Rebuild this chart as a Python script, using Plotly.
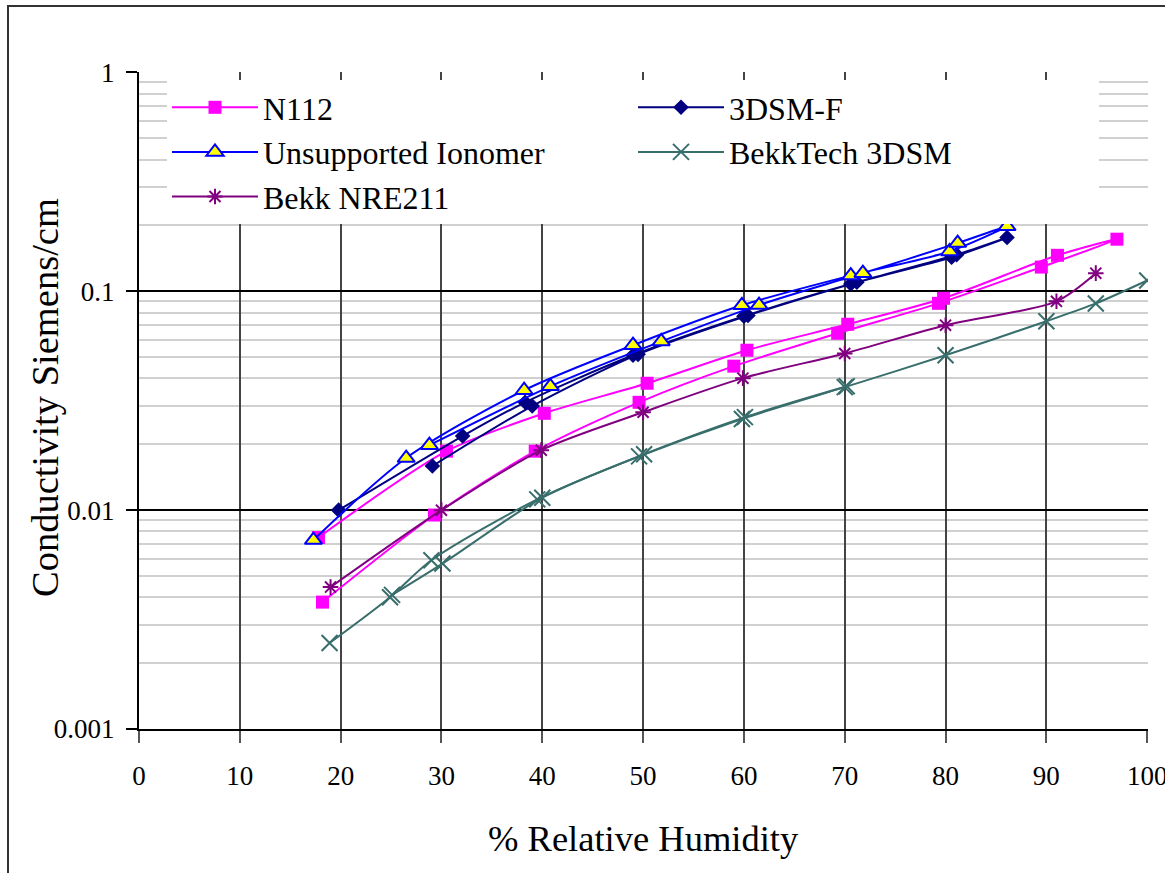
import plotly.graph_objects as go

# ---- data ----
n112_rh = [18.2, 29.3, 39.3, 49.6, 59.0, 69.3, 79.3, 89.5, 97.0, 91.1, 79.8, 70.3, 60.3, 50.4, 40.2, 30.5, 17.8]
n112_s = [0.0038, 0.0095, 0.0186, 0.0311, 0.0455, 0.0643, 0.0881, 0.129, 0.173, 0.146, 0.0929, 0.0707, 0.0538, 0.0380, 0.0277, 0.0186, 0.0075]

dsmf_rh = [19.8, 32.1, 38.3, 49.0, 60.0, 70.6, 80.6, 86.1, 81.1, 71.2, 60.4, 49.5, 39.0, 29.1]
dsmf_s = [0.0100, 0.0218, 0.0311, 0.0510, 0.0769, 0.108, 0.143, 0.176, 0.147, 0.110, 0.0775, 0.0515, 0.0299, 0.0159]

iono_rh = [17.3, 26.5, 38.2, 49.0, 59.8, 70.6, 80.4, 86.1, 81.2, 71.8, 61.5, 51.8, 40.8, 28.8]
iono_s = [0.0073, 0.0173, 0.0353, 0.0567, 0.0863, 0.118, 0.152, 0.198, 0.166, 0.121, 0.0865, 0.0590, 0.0368, 0.0198]

bekk3d_up_rh = [18.9, 24.9, 29.0, 39.5, 49.6, 59.8, 70.0, 80.0, 90.0, 94.9, 100.0]
bekk3d_up_s = [0.00247, 0.0040, 0.0059, 0.0112, 0.0176, 0.0261, 0.0365, 0.051, 0.073, 0.088, 0.112]
bekk3d_dn_rh = [70.2, 60.1, 50.1, 40.0, 30.1, 25.1]
bekk3d_dn_s = [0.0368, 0.0266, 0.0180, 0.0114, 0.0057, 0.0041]

nre211_rh = [19.0, 30.0, 39.9, 50.0, 59.9, 70.0, 80.0, 91.0, 94.9]
nre211_s = [0.00445, 0.0100, 0.0188, 0.0280, 0.0401, 0.052, 0.070, 0.090, 0.121]

x_ticks = [0, 10, 20, 30, 40, 50, 60, 70, 80, 90, 100]
y_ticks = [0.001, 0.01, 0.1, 1]
y_ticktext = ["0.001", "0.01", "0.1", "1"]

FONT = "Liberation Serif"
SM = 0.8

fig = go.Figure()

fig.add_trace(go.Scatter(x=n112_rh, y=n112_s, name="N112", mode="lines+markers",
                         line=dict(color="#FF00FF", width=2, shape="spline", smoothing=SM),
                         marker=dict(symbol="square", size=13, color="#FF00FF")))
fig.add_trace(go.Scatter(x=dsmf_rh, y=dsmf_s, name="3DSM-F", mode="lines+markers",
                         line=dict(color="#000080", width=2, shape="spline", smoothing=SM),
                         marker=dict(symbol="diamond", size=12, color="#000080")))
fig.add_trace(go.Scatter(x=iono_rh, y=iono_s, name="Unsupported Ionomer", mode="lines+markers",
                         line=dict(color="#0000FF", width=2, shape="spline", smoothing=SM),
                         marker=dict(symbol="triangle-up", size=15, color="#FFFF00",
                                     line=dict(color="#0000FF", width=2))))
fig.add_trace(go.Scatter(x=bekk3d_up_rh, y=bekk3d_up_s, name="BekkTech 3DSM", mode="lines+markers",
                         legendgroup="bekk3d",
                         line=dict(color="#386E6C", width=2, shape="spline", smoothing=SM),
                         marker=dict(symbol="x-thin-open", size=16, color="#386E6C",
                                     line=dict(color="#386E6C", width=2))))
fig.add_trace(go.Scatter(x=nre211_rh, y=nre211_s, name="Bekk NRE211", mode="lines+markers",
                         line=dict(color="#800080", width=2, shape="spline", smoothing=SM),
                         marker=dict(symbol="asterisk-open", size=13, color="#800080",
                                     line=dict(color="#800080", width=2))))
fig.add_trace(go.Scatter(x=bekk3d_dn_rh, y=bekk3d_dn_s, name="BekkTech 3DSM", mode="lines+markers",
                         legendgroup="bekk3d", showlegend=False,
                         line=dict(color="#386E6C", width=2, shape="spline", smoothing=SM),
                         marker=dict(symbol="x-thin-open", size=16, color="#386E6C",
                                     line=dict(color="#386E6C", width=2))))

L, R, T, B = 139, 17, 72, 144
W, H = 1165, 873
pw = W - L - R
ph = H - T - B

def px_x(p):
    return (p - L) / pw

def px_y(p):
    return (H - B - p) / ph

fig.update_layout(
    width=W, height=H,
    margin=dict(l=L, r=R, t=T, b=B, autoexpand=False),
    paper_bgcolor="white", plot_bgcolor="white",
    font=dict(family=FONT, color="black"),
    showlegend=True,
    legend=dict(orientation="h", x=px_x(167), xanchor="left", y=px_y(80), yanchor="top",
                bgcolor="white", borderwidth=0, font=dict(size=32, family=FONT, color="black"),
                entrywidth=365, itemwidth=86, traceorder="normal"),
    xaxis=dict(range=[0, 100.08], tickvals=x_ticks, showgrid=True, gridcolor="#444444", gridwidth=1.5,
               showline=True, linecolor="black", linewidth=2, ticks="outside", ticklen=12,
               tickcolor="#555555", tickwidth=1.5, tickfont=dict(size=27, family=FONT, color="black"),
               ticklabelstandoff=10, ticklabeloverflow="allow", zeroline=False),
    yaxis=dict(type="log", range=[-3, 0.002], tickvals=y_ticks, ticktext=y_ticktext,
               showgrid=True, gridcolor="black", gridwidth=1.5,
               minor=dict(dtick="D1", showgrid=True, gridcolor="#d0d0d0", gridwidth=1.5, ticks=""),
               showline=True, linecolor="black", linewidth=2, ticks="outside", ticklen=11,
               tickcolor="black", tickwidth=1.5, tickfont=dict(size=27, family=FONT, color="black"),
               ticklabelstandoff=6, zeroline=False),
    annotations=[
        dict(text="% Relative Humidity", xref="paper", yref="paper", x=px_x(643), y=px_y(838),
             xanchor="center", yanchor="middle", showarrow=False,
             font=dict(size=36.5, family=FONT, color="black")),
        dict(text="Conductivity Siemens/cm", xref="paper", yref="paper", x=px_x(45), y=px_y(398),
             xanchor="center", yanchor="middle", textangle=-90, showarrow=False,
             font=dict(size=38.5, family=FONT, color="black")),
    ],
    shapes=[
        dict(type="rect", xref="paper", yref="paper", x0=px_x(8), y0=px_y(880), x1=px_x(1175), y1=px_y(6),
             line=dict(color="#333333", width=2), fillcolor="rgba(0,0,0,0)", layer="above"),
    ],
)

fig.write_html("out.html")
